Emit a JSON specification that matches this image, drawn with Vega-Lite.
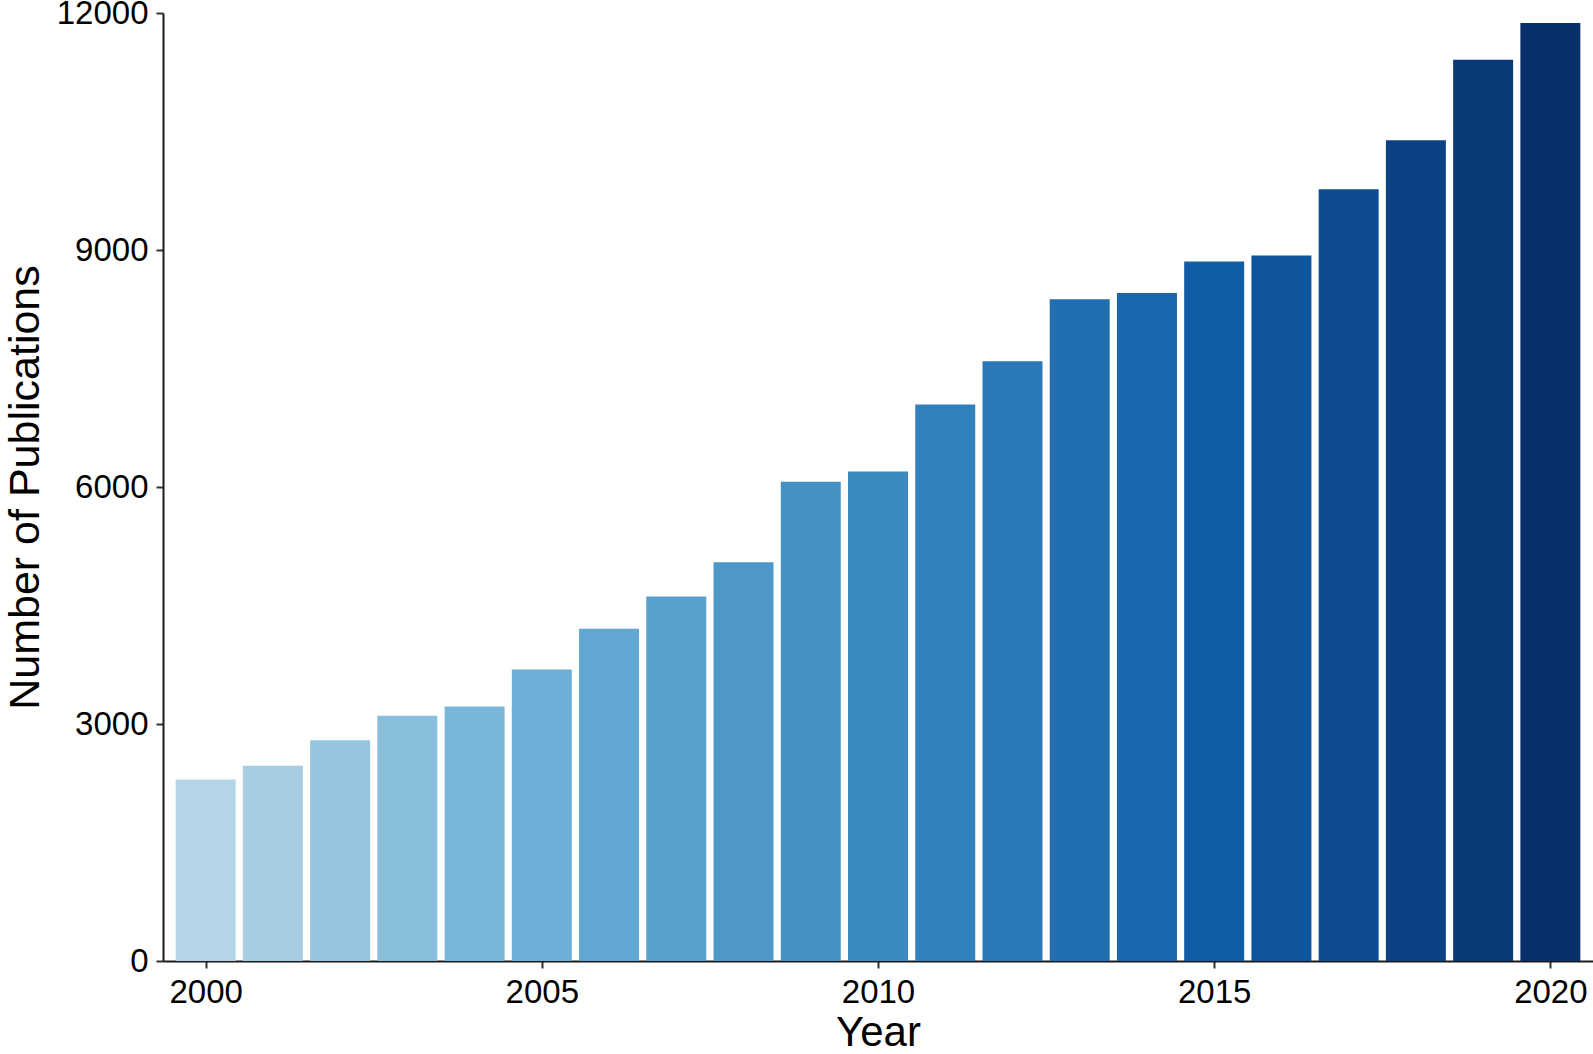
{
  "$schema": "https://vega.github.io/schema/vega-lite/v6.json",
  "width": 1430,
  "height": 948,
  "autosize": "none",
  "padding": {"left": 163, "top": 13, "right": 0, "bottom": 93},
  "background": "white",
  "config": {
    "view": {"stroke": null},
    "font": "Liberation Sans",
    "axis": {"grid": false, "domainColor": "#1a1a1a", "domainWidth": 2, "tickColor": "#333333", "tickWidth": 2, "tickSize": 7, "labelColor": "#000000", "titleColor": "#000000", "labelFont": "Liberation Sans", "titleFont": "Liberation Sans", "titleFontWeight": "normal"}
  },
  "data": {
    "values": [
      {"Year": 2000, "Publications": 2299},
      {"Year": 2001, "Publications": 2471},
      {"Year": 2002, "Publications": 2793},
      {"Year": 2003, "Publications": 3104},
      {"Year": 2004, "Publications": 3223},
      {"Year": 2005, "Publications": 3689},
      {"Year": 2006, "Publications": 4205},
      {"Year": 2007, "Publications": 4615},
      {"Year": 2008, "Publications": 5049},
      {"Year": 2009, "Publications": 6065},
      {"Year": 2010, "Publications": 6196},
      {"Year": 2011, "Publications": 7044},
      {"Year": 2012, "Publications": 7592},
      {"Year": 2013, "Publications": 8377},
      {"Year": 2014, "Publications": 8456},
      {"Year": 2015, "Publications": 8853},
      {"Year": 2016, "Publications": 8930},
      {"Year": 2017, "Publications": 9768},
      {"Year": 2018, "Publications": 10388},
      {"Year": 2019, "Publications": 11409},
      {"Year": 2020, "Publications": 11873}
    ]
  },
  "mark": {"type": "bar", "size": 60},
  "encoding": {
    "x": {
      "field": "Year",
      "type": "quantitative",
      "scale": {"domain": [1999.366, 2020.634], "nice": false, "zero": false, "padding": 0},
      "axis": {"values": [2000, 2005, 2010, 2015, 2020], "format": "d", "labelFontSize": 33, "labelPadding": 8, "title": "Year", "titleFontSize": 42, "titlePadding": 3}
    },
    "y": {
      "field": "Publications",
      "type": "quantitative",
      "scale": {"domain": [0, 12000], "nice": false, "padding": 0},
      "axis": {"values": [0, 3000, 6000, 9000, 12000], "format": "d", "labelFontSize": 33, "labelPadding": 8, "title": "Number of Publications", "titleFontSize": 43, "titlePadding": 9}
    },
    "color": {
      "field": "Year",
      "type": "quantitative",
      "scale": {"domain": [2000, 2005, 2010, 2015, 2020], "range": ["#b4d4e8", "#6cafd6", "#3a89c1", "#115ea7", "#08306b"], "interpolate": "rgb"},
      "legend": null
    }
  }
}
